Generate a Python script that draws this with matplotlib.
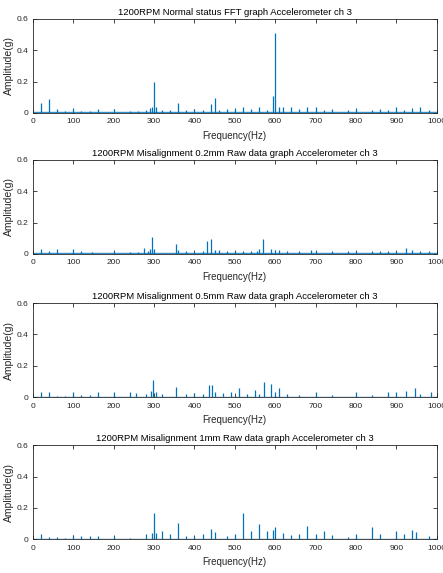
import matplotlib
matplotlib.use('Agg')
import matplotlib.pyplot as plt

plt.rcParams['font.family'] = ['Liberation Sans', 'DejaVu Sans']

# Titles for each panel
titles = ['1200RPM Normal status FFT graph Accelerometer ch 3',
          '1200RPM Misalignment 0.2mm Raw data graph Accelerometer ch 3',
          '1200RPM Misalignment 0.5mm Raw data graph Accelerometer ch 3',
          '1200RPM Misalignment 1mm Raw data graph Accelerometer ch 3']

# Peak frequencies (Hz) and amplitudes (g)
freq_normal = [20, 40, 60, 80, 100, 120, 140, 160, 200, 240, 260, 280, 290, 295, 300, 305,
               320, 340, 360, 380, 400, 420, 440, 450, 460, 480, 500, 520, 540, 560, 580,
               595, 600, 610, 620, 640, 660, 680, 700, 720, 740, 780, 800, 840, 860, 880,
               900, 920, 940, 960, 980]
amp_normal = [0.06, 0.09, 0.025, 0.01, 0.03, 0.012, 0.01, 0.025, 0.025, 0.015, 0.015, 0.02,
              0.03, 0.04, 0.20, 0.035, 0.02, 0.02, 0.06, 0.02, 0.025, 0.02, 0.055, 0.095,
              0.02, 0.025, 0.03, 0.04, 0.025, 0.04, 0.02, 0.11, 0.51, 0.04, 0.035, 0.04,
              0.025, 0.035, 0.035, 0.02, 0.025, 0.02, 0.03, 0.02, 0.025, 0.02, 0.035, 0.02,
              0.03, 0.035, 0.02]

freq_02mm = [20, 40, 60, 100, 120, 145, 200, 240, 260, 275, 285, 290, 295, 300, 355, 360,
             380, 400, 420, 432, 442, 450, 460, 480, 500, 520, 540, 555, 560, 570, 590,
             600, 610, 630, 660, 690, 700, 740, 780, 800, 840, 860, 880, 900, 925, 940,
             960, 980]
amp_02mm = [0.03, 0.02, 0.03, 0.03, 0.015, 0.012, 0.02, 0.01, 0.01, 0.035, 0.02, 0.03,
            0.105, 0.03, 0.06, 0.025, 0.015, 0.01, 0.015, 0.08, 0.095, 0.025, 0.025, 0.02,
            0.02, 0.015, 0.015, 0.02, 0.03, 0.095, 0.03, 0.025, 0.025, 0.02, 0.015, 0.025,
            0.02, 0.015, 0.015, 0.015, 0.02, 0.015, 0.015, 0.02, 0.035, 0.025, 0.02, 0.02]

freq_05mm = [20, 40, 60, 80, 100, 120, 140, 160, 200, 240, 255, 280, 292, 297, 305, 320,
             355, 380, 400, 420, 435, 443, 450, 470, 490, 510, 530, 550, 560, 572, 590,
             600, 610, 630, 660, 700, 740, 800, 840, 880, 900, 925, 947, 960, 985]
amp_05mm = [0.03, 0.03, 0.01, 0.01, 0.03, 0.015, 0.015, 0.035, 0.03, 0.03, 0.025, 0.02,
            0.04, 0.11, 0.035, 0.02, 0.065, 0.02, 0.025, 0.02, 0.075, 0.08, 0.03, 0.025,
            0.035, 0.055, 0.02, 0.045, 0.02, 0.095, 0.085, 0.03, 0.06, 0.02, 0.015, 0.03,
            0.015, 0.03, 0.015, 0.035, 0.03, 0.04, 0.055, 0.02, 0.03]

freq_1mm = [20, 40, 60, 80, 100, 120, 140, 160, 200, 240, 280, 295, 300, 305, 320, 340,
            360, 380, 400, 420, 440, 450, 480, 500, 520, 540, 560, 580, 595, 600, 620, 640,
            660, 680, 700, 720, 740, 780, 800, 840, 860, 900, 920, 940, 950, 980]
amp_1mm = [0.035, 0.015, 0.015, 0.01, 0.025, 0.02, 0.02, 0.02, 0.02, 0.01, 0.035, 0.04,
           0.17, 0.04, 0.055, 0.035, 0.105, 0.02, 0.02, 0.03, 0.065, 0.045, 0.02, 0.035,
           0.165, 0.055, 0.1, 0.055, 0.06, 0.08, 0.04, 0.025, 0.03, 0.085, 0.035, 0.055,
           0.025, 0.015, 0.035, 0.075, 0.035, 0.05, 0.035, 0.06, 0.045, 0.02]

# approximate noise floor level of each panel (g)
noise_floor = [0.004, 0.003, 0.003, 0.003]

freqs = [freq_normal, freq_02mm, freq_05mm, freq_1mm]
amps = [amp_normal, amp_02mm, amp_05mm, amp_1mm]

xticks = list(range(0, 1001, 100))
yticks = [0, 0.2, 0.4, 0.6]

blue = '#0072BD'
txt = '#262626'

fig = plt.figure(figsize=(4.43, 5.73), dpi=100)

# bottoms of the four axes, in figure fraction
bottoms = [0.803, 0.557, 0.307, 0.059]

for i in range(4):
    ax = fig.add_axes([0.0745, bottoms[i], 0.911, 0.164])
    ax.vlines(freqs[i], 0, amps[i], color=blue, linewidth=0.9)
    ax.axhline(noise_floor[i], color=blue, linewidth=1.0, alpha=0.8)
    ax.set_xlim(0, 1000)
    ax.set_ylim(0, 0.6)
    ax.set_xticks(xticks)
    ax.set_yticks(yticks)
    ax.set_yticklabels(['0', '0.2', '0.4', '0.6'])
    ax.tick_params(direction='in', top=True, right=True, length=3, width=0.6,
                   labelsize=6, colors=txt)
    ax.tick_params(axis='x', pad=4)
    ax.tick_params(axis='y', pad=3)
    for s in ax.spines.values():
        s.set_linewidth(0.6)
        s.set_color(txt)
    ax.set_title(titles[i], fontsize=6.8, color='black', pad=3)
    ax.set_xlabel('Frequency(Hz)', fontsize=7.0, color=txt, labelpad=4)
    ax.set_ylabel('Amplitude(g)', fontsize=7.5, color=txt, labelpad=2)

fig.savefig('out.png', dpi=100)
